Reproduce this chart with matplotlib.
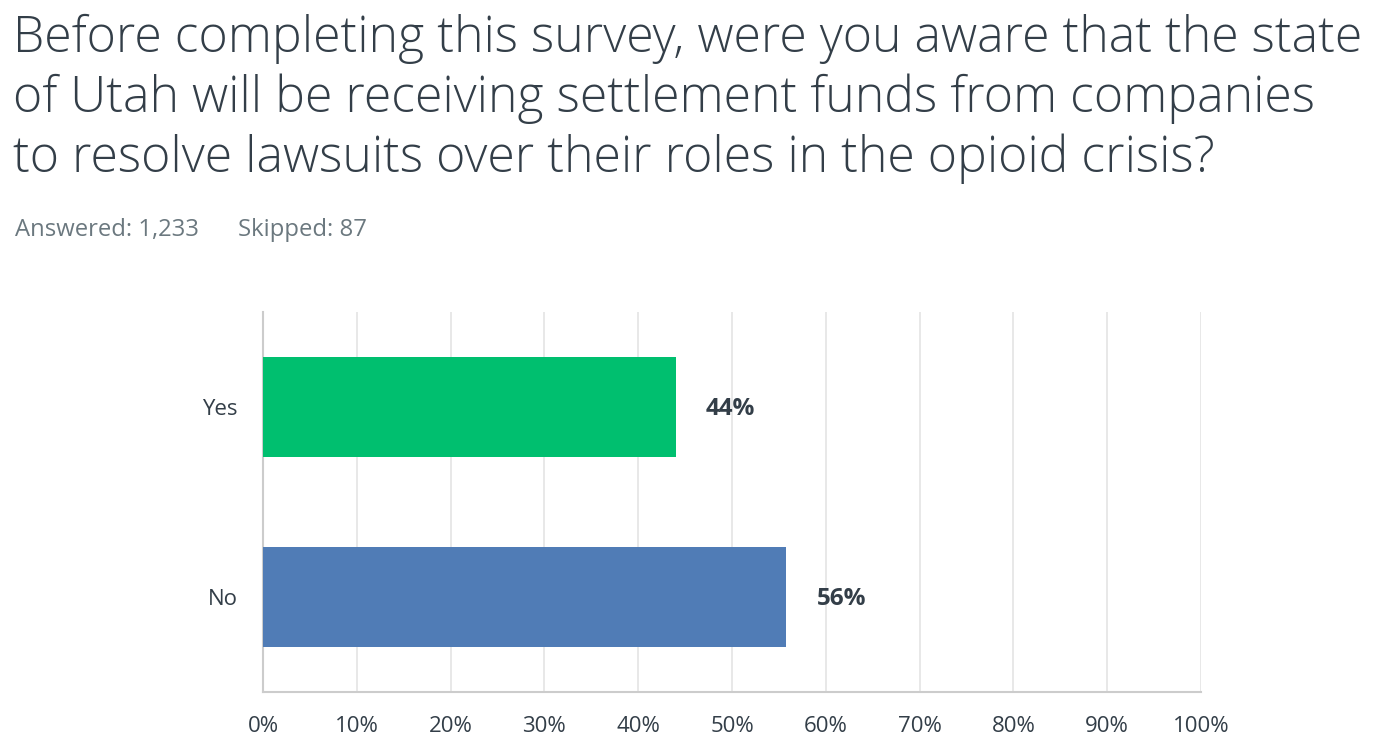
import matplotlib.pyplot as plt
from matplotlib.ticker import FuncFormatter

categories = ["Yes", "No"]
values = [44.0, 55.8]
labels = ["44%", "56%"]
colors = ["#00bf6f", "#507cb6"]
xticks = [0, 10, 20, 30, 40, 50, 60, 70, 80, 90, 100]

title = ("Before completing this survey, were you aware that the state\n"
         "of Utah will be receiving settlement funds from companies\n"
         "to resolve lawsuits over their roles in the opioid crisis?")

plt.rcParams["font.family"] = ["Open Sans", "DejaVu Sans"]

fig = plt.figure(figsize=(13.75, 7.51), dpi=100)
ax = fig.add_axes([263 / 1375, 1 - 692 / 751, 938 / 1375, 380 / 751])

y = list(range(len(categories)))
ax.barh(y, values, height=0.526, color=colors, zorder=3)
for yi, v, lab in zip(y, values, labels):
    ax.text(v + 3.2, yi + 0.01, lab, va="center", ha="left", fontsize=17.5,
            fontweight="bold", color="#333e48")

ax.set_xlim(0, 100)
ax.set_ylim(1.5, -0.5)
ax.set_yticks(y)
ax.set_yticklabels(categories)
ax.set_xticks(xticks)
ax.xaxis.set_major_formatter(FuncFormatter(lambda v, p: f"{int(v)}%"))
ax.grid(axis="x", color="#e6e6e6", linewidth=1.3, zorder=0)
for s in ["top", "right"]:
    ax.spines[s].set_visible(False)
for s in ["left", "bottom"]:
    ax.spines[s].set_color("#cccccc")
    ax.spines[s].set_linewidth(1.5)
ax.tick_params(axis="both", length=0, labelsize=16, labelcolor="#333e48")
ax.tick_params(axis="x", pad=17)
ax.tick_params(axis="y", pad=28)
ax.tick_params(axis="y", pad=18)

fig.text(13 / 1375, 1 - 14 / 751, title, fontsize=36, fontweight="light",
         color="#333e48", va="top", ha="left", linespacing=1.24)
fig.text(15 / 1375, 1 - 230 / 751, "Answered: 1,233",
         fontsize=17.2, color="#6b787f", va="center", ha="left")
fig.text(238 / 1375, 1 - 230 / 751, "Skipped: 87",
         fontsize=17.2, color="#6b787f", va="center", ha="left")

fig.savefig("out.png", dpi=100)
